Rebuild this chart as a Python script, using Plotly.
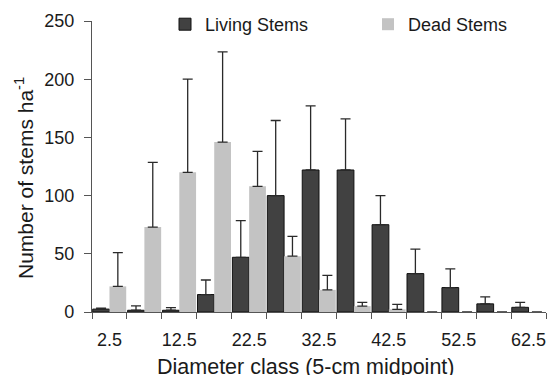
import plotly.graph_objects as go

categories = ["2.5", "7.5", "12.5", "17.5", "22.5", "27.5", "32.5",
              "37.5", "42.5", "47.5", "52.5", "57.5", "62.5"]
living = [2.5, 1.5, 1.5, 15, 47, 100, 122, 122, 75, 33, 21, 7, 4]
living_err = [0.8, 3.7, 2.3, 12.5, 31.5, 64.5, 55, 44, 25, 21, 16, 6, 4.3]
dead = [22, 73, 120, 146, 108, 48, 19, 5, 2.3, 0, 0, 0, 0]
dead_err = [29, 55.5, 80, 77.5, 30, 17, 12.5, 3.2, 4.3, 0, 0, 0, 0]
y_ticks = [0, 50, 100, 150, 200, 250]

idx = list(range(len(categories)))
FONT = "Liberation Sans, Arial, sans-serif"
W, H = 547, 375
L, R, T, B = 92, 1, 21, 63

fig = go.Figure()
fig.add_trace(go.Bar(
    x=idx, y=living, name="Living Stems", showlegend=True,
    marker=dict(color="#414141", line=dict(color="#111111", width=1)),
    error_y=dict(type="data", array=living_err, symmetric=False,
                 arrayminus=[0] * len(living), color="#2a2a2a",
                 thickness=1.3, width=5),
    legend="legend",
))
fig.add_trace(go.Bar(
    x=idx, y=dead, name="Dead Stems", showlegend=True,
    marker=dict(color="#c3c3c3", line=dict(color="#c3c3c3", width=0)),
    error_y=dict(type="data", array=dead_err, symmetric=False,
                 arrayminus=[0] * len(dead), color="#2a2a2a",
                 thickness=1.3, width=5),
    legend="legend2",
))

pw = W - L - R
ph = H - T - B

def px_x(p):
    return (p - L) / pw

def px_y(p):
    return 1 - (p - T) / ph

fig.update_layout(
    template="none",
    width=W, height=H,
    margin=dict(l=L, r=R, t=T, b=B, autoexpand=False),
    paper_bgcolor="white", plot_bgcolor="white",
    font=dict(family=FONT, size=18, color="#1a1a1a"),
    barmode="group", bargap=0.04, bargroupgap=0,
    showlegend=True,
    legend=dict(x=px_x(165), y=px_y(24.5), xanchor="left", yanchor="middle",
                orientation="h", font=dict(size=18), bgcolor="rgba(0,0,0,0)"),
    legend2=dict(x=px_x(368), y=px_y(24.5), xanchor="left", yanchor="middle",
                 orientation="h", font=dict(size=18), bgcolor="rgba(0,0,0,0)"),
    xaxis=dict(
        range=[-0.5, len(categories) - 0.5], automargin=False,
        tickmode="array", tickvals=idx[::2], ticktext=categories[::2],
        ticks="", showgrid=False, zeroline=False,
        showline=True, linecolor="#555555", linewidth=1.3,
        ticklabelstandoff=11,
        minor=dict(tickmode="array",
                   tickvals=[i - 0.5 for i in range(len(categories) + 1)],
                   ticks="outside", ticklen=6, tickcolor="#555555",
                   tickwidth=1.3, showgrid=False),
    ),
    yaxis=dict(
        range=[0, 250], automargin=False, tickmode="array", tickvals=y_ticks,
        ticks="outside", ticklen=7, tickcolor="#555555", tickwidth=1.3,
        showgrid=False, zeroline=False,
        showline=True, linecolor="#555555", linewidth=1.3,
        ticklabelstandoff=6,
    ),
    annotations=[
        dict(text="Diameter class (5-cm midpoint)", xref="paper", yref="paper",
             x=px_x(305.5), y=px_y(367), xanchor="center", yanchor="middle",
             showarrow=False, font=dict(size=21.5)),
        dict(text="Number of stems ha<sup>-1</sup>", xref="paper", yref="paper",
             x=px_x(24), y=px_y(178), xanchor="center", yanchor="middle",
             textangle=-90, showarrow=False, font=dict(size=21)),
    ],
)

fig.write_html(
    "out.html",
    config={"displayModeBar": False},
    post_script="document.body.style.margin='0';document.body.style.overflow='hidden';",
)
